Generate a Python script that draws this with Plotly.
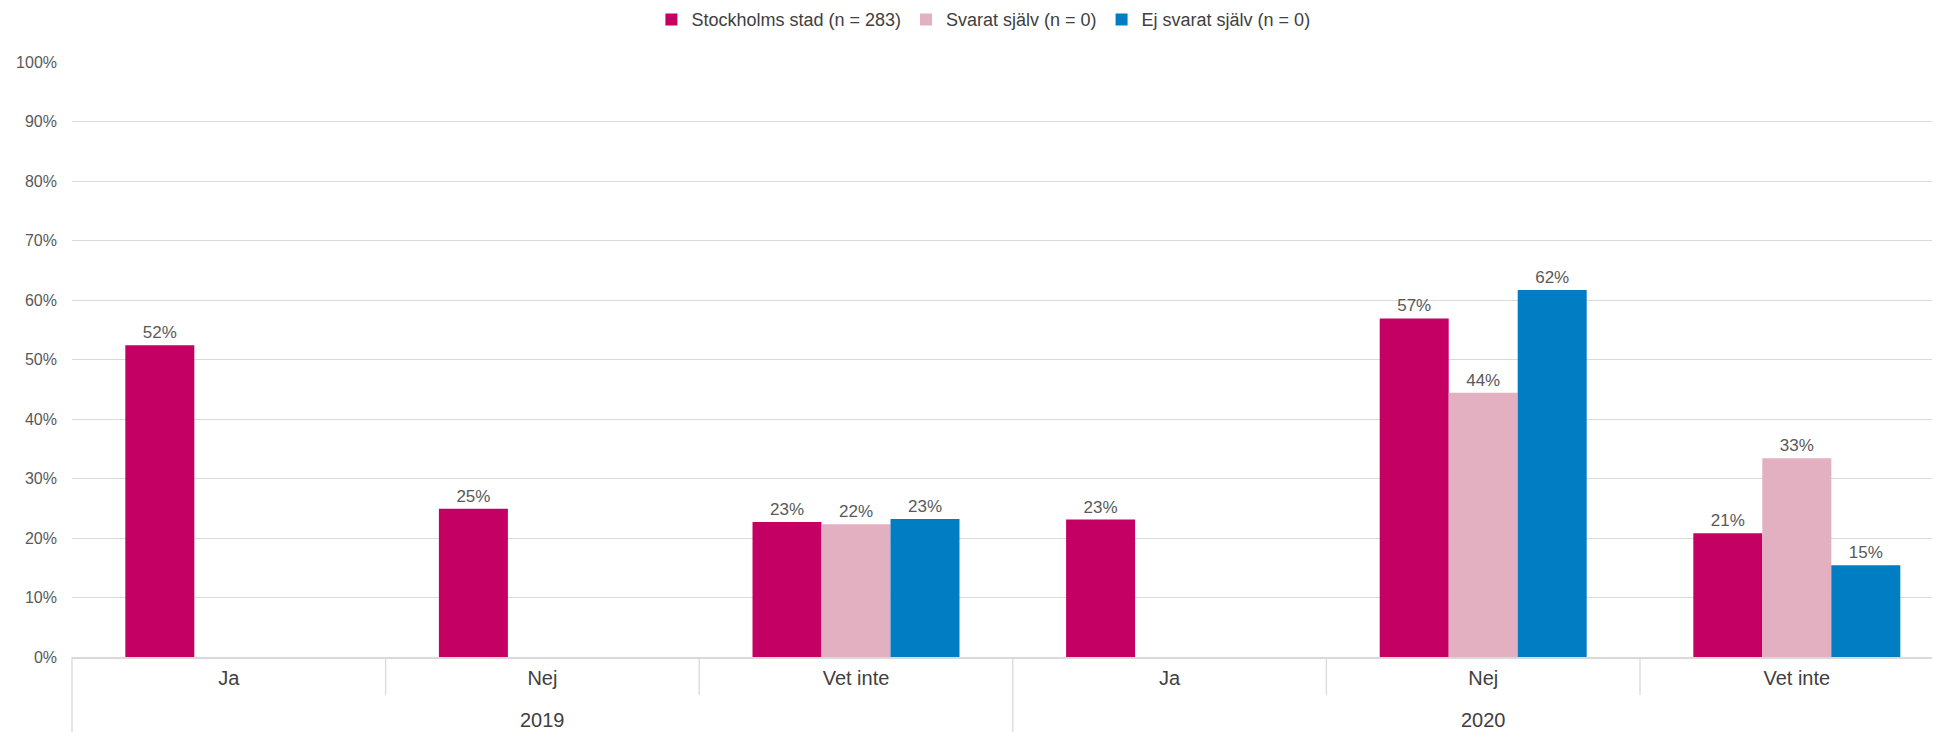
import plotly.graph_objects as go

years = ["2019", "2020"]
answers = ["Ja", "Nej", "Vet inte"]
tick_labels = answers * len(years)
series_names = ["Stockholms stad (n = 283)", "Svarat själv (n = 0)", "Ej svarat själv (n = 0)"]
stockholm = [52.4, 24.9, 22.7, 23.1, 56.9, 20.8]
svarat = [None, None, 22.3, None, 44.4, 33.4]
ej_svarat = [None, None, 23.2, None, 61.7, 15.4]
colors = ["#C40064", "#E3B0C2", "#007DC3"]
y_ticks = [0, 10, 20, 30, 40, 50, 60, 70, 80, 90, 100]
y_tick_text = ["0%", "10%", "20%", "30%", "40%", "50%", "60%", "70%", "80%", "90%", "100%"]

positions = list(range(len(tick_labels)))
FONT = "Liberation Sans, Arial, sans-serif"

fig = go.Figure()
for name, vals, col in zip(series_names, [stockholm, svarat, ej_svarat], colors):
    fig.add_trace(go.Bar(
        x=positions, y=vals, name=name, marker=dict(color=col, line=dict(width=0)),
        texttemplate="%{y:.0f}%", textposition="outside", cliponaxis=False,
        textfont=dict(family=FONT, size=17, color="#595959"),
        hoverinfo="skip",
    ))

# category/year dividers and year labels
n_ans = len(answers)
grid_col = "#D9D9D9"
for i in range(1, len(tick_labels)):
    long_div = (i % n_ans == 0)
    fig.add_shape(type="line", xref="x", yref="paper",
                  x0=i - 0.5, x1=i - 0.5, y0=0, y1=(-0.13 if long_div else -0.064),
                  line=dict(color=grid_col, width=1.3), layer="above")
fig.add_shape(type="line", xref="paper", yref="paper", x0=0, x1=0, y0=0, y1=-0.13,
              line=dict(color=grid_col, width=1.3))
for k, yr in enumerate(years):
    fig.add_annotation(x=k * n_ans + (n_ans - 1) / 2, y=0, xref="x", yref="paper",
                       yshift=-63, yanchor="middle", text=yr, showarrow=False,
                       font=dict(family=FONT, size=20, color="#404040"))

fig.update_layout(
    width=1936, height=732,
    margin=dict(l=72, r=4, t=62, b=75),
    paper_bgcolor="white", plot_bgcolor="white",
    barmode="group", bargap=0.34, bargroupgap=0,
    font=dict(family=FONT, color="#595959"),
    legend=dict(orientation="h", x=0.49, xanchor="center", xref="paper",
                y=0.973, yref="container", yanchor="middle",
                font=dict(family=FONT, size=18, color="#404040"),
                itemclick=False, itemdoubleclick=False, traceorder="normal"),
    showlegend=True,
)
fig.update_xaxes(
    range=[-0.5, -0.5 + 1860 / 313.6], tickmode="array", tickvals=positions, ticktext=tick_labels,
    showgrid=False, zeroline=False, showline=True, linecolor=grid_col, linewidth=2,
    ticks="", ticklabelstandoff=2,
    tickfont=dict(family=FONT, size=20, color="#404040"), fixedrange=True,
)
fig.update_yaxes(
    range=[0, 100], tickmode="array", tickvals=y_ticks, ticktext=y_tick_text,
    showgrid=True, gridcolor=grid_col, gridwidth=1, zeroline=False, showline=False,
    ticks="", ticklabelstandoff=14,
    tickfont=dict(family=FONT, size=16, color="#595959"), fixedrange=True,
)

fig.write_html("out.html", config={"displayModeBar": False},
               post_script="document.body.style.margin='0';document.body.style.overflow='hidden';")
